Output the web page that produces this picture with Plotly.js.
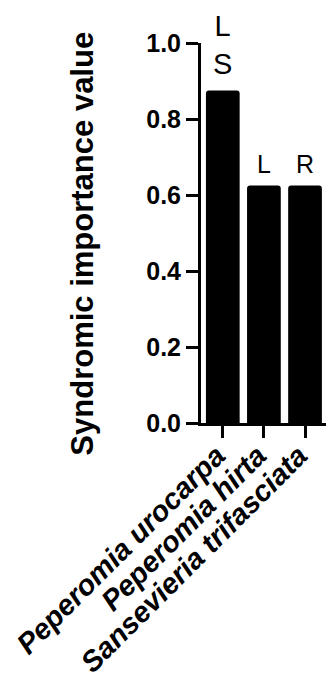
<!DOCTYPE html>
<html>
<head>
<meta charset="utf-8">
<script src="https://cdn.plot.ly/plotly-3.0.1.min.js"></script>
<style>html,body{margin:0;padding:0;background:#fff;}#chart{width:326px;height:679px;}</style>
</head>
<body>
<div id="chart"></div>
<script>
var categories = ["Peperomia urocarpa", "Peperomia hirta", "Sansevieria trifasciata"];
var values = [0.875, 0.625, 0.625];
var barLabels = ["L<br>S", "L", "R"];
var yTickVals = [0, 0.2, 0.4, 0.6, 0.8, 1.0];
var yTickText = ["0.0", "0.2", "0.4", "0.6", "0.8", "1.0"];
var yTitle = "Syndromic importance value";

var FONT = "Liberation Sans, Arial, sans-serif";

var trace = {
  type: "bar",
  x: categories,
  y: values,
  marker: {color: "#000000", cornerradius: 3, line: {width: 0}},
  hoverinfo: "none"
};

var annotations = categories.map(function (c, i) {
  var big = i === 0;
  return {
    x: c, y: values[i], xref: "x", yref: "y",
    text: barLabels[i], showarrow: false,
    xanchor: "center", yanchor: "bottom",
    yshift: big ? 9 : 6,
    font: {family: FONT, size: big ? 29 : 25, color: "#000"}
  };
});
annotations.push({
  xref: "paper", yref: "paper", x: -0.944, y: 0.472,
  xanchor: "center", yanchor: "middle", textangle: -90,
  text: yTitle, showarrow: false,
  font: {family: FONT, size: 31, color: "#000", weight: "bold"}
});

var layout = {
  width: 326, height: 679,
  margin: {l: 201, r: 0, t: 43, b: 256},
  paper_bgcolor: "#fff", plot_bgcolor: "#fff",
  showlegend: false,
  bargap: 0.18,
  xaxis: {
    type: "category",
    range: [-0.53, 2.51],
    showgrid: false, zeroline: false,
    showline: true, linecolor: "#000", linewidth: 3,
    ticks: "outside", ticklen: 12, tickwidth: 3, tickcolor: "#000",
    tickangle: -45,
    ticklabelshift: -6,
    ticklabelstandoff: -11,
    tickfont: {family: FONT, size: 29, color: "#000", weight: "bold", style: "italic"},
    automargin: false
  },
  yaxis: {
    range: [0, 1.0],
    tickvals: yTickVals, ticktext: yTickText,
    showgrid: false, zeroline: false,
    showline: true, linecolor: "#000", linewidth: 3,
    ticks: "outside", ticklen: 12, tickwidth: 3, tickcolor: "#000",
    tickfont: {family: FONT, size: 25, color: "#000", weight: "bold"},
    automargin: false
  },
  annotations: annotations
};

Plotly.newPlot("chart", [trace], layout, {displayModeBar: false, staticPlot: true});
</script>
</body>
</html>
